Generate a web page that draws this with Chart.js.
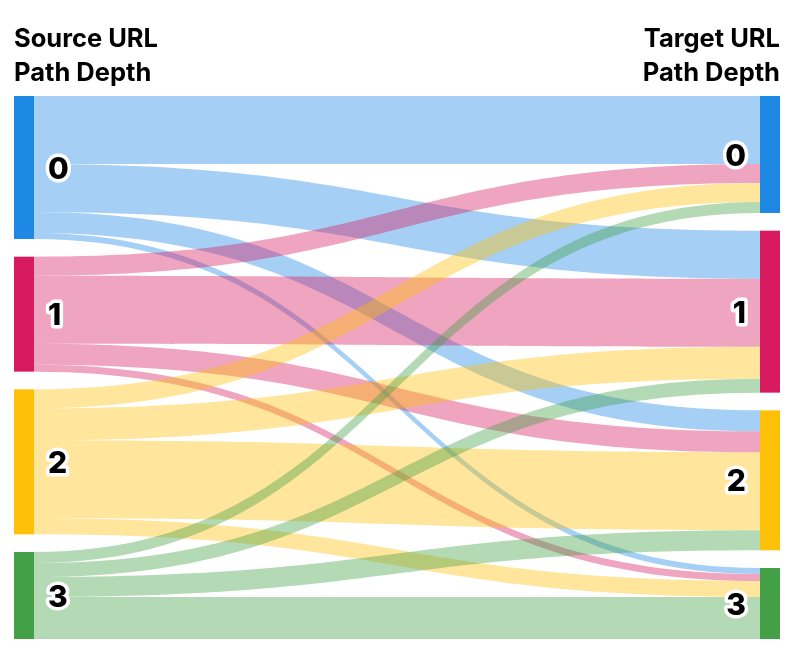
<!DOCTYPE html>
<html>
<head>
<meta charset="utf-8">
<script src="https://cdn.jsdelivr.net/npm/chart.js"></script>
<style>
  html, body { margin: 0; padding: 0; background: #fff; }
  #wrap { width: 794px; height: 661px; position: relative; }
</style>
</head>
<body>
<div id="wrap"><canvas id="sankey"></canvas></div>
<script>
// path depth categories (same on both sides)
const sourceDepths = ['0', '1', '2', '3'];
const targetDepths = ['0', '1', '2', '3'];

// link values: one array per source depth, ordered by target depth 0..3
const fromDepth0 = [68, 48, 21, 6];
const fromDepth1 = [19, 68, 21, 7];
const fromDepth2 = [19, 32, 78, 16];
const fromDepth3 = [11, 14, 20, 42];
const links = [fromDepth0, fromDepth1, fromDepth2, fromDepth3];

const sourceTitle = ['Source URL', 'Path Depth'];
const targetTitle = ['Target URL', 'Path Depth'];

// styling
const nodeColors = ['#1E88E5', '#D81B60', '#FFC107', '#43A047'];
const linkAlpha = 0.4;
const nodeGap = 17.7;   // gap between nodes, in value units
const nodeWidth = 20;   // px

function withAlpha(hex, a) {
    const n = parseInt(hex.slice(1), 16);
    return `rgba(${(n >> 16) & 255}, ${(n >> 8) & 255}, ${n & 255}, ${a})`;
}

const sourceTotals = links.map(row => row.reduce((a, b) => a + b, 0));
const targetTotals = targetDepths.map((_, j) => links.reduce((a, row) => a + row[j], 0));
const grandTotal = sourceTotals.reduce((a, b) => a + b, 0);
const yMax = grandTotal + nodeGap * (sourceDepths.length - 1);

function stackTops(totals) {
    let acc = 0;
    return totals.map(t => { const top = acc; acc += t + nodeGap; return top; });
}

const sankeyPlugin = {
    id: 'sankey',
    beforeDatasetsDraw(chart) {
        const ctx = chart.ctx;
        const xs = chart.scales.x;
        const ys = chart.scales.y;
        const xLeft = xs.getPixelForValue(0);
        const xRight = xs.getPixelForValue(1);
        const x0 = xLeft + nodeWidth;
        const x1 = xRight - nodeWidth;
        const xm = (x0 + x1) / 2;

        const srcTops = stackTops(sourceTotals);
        const tgtTops = stackTops(targetTotals);
        const srcOff = srcTops.slice();
        const tgtOff = tgtTops.slice();

        // links
        ctx.save();
        for (let i = 0; i < links.length; i++) {
            for (let j = 0; j < links[i].length; j++) {
                const v = links[i][j];
                const sy0 = ys.getPixelForValue(srcOff[i]);
                const sy1 = ys.getPixelForValue(srcOff[i] + v);
                const ty0 = ys.getPixelForValue(tgtOff[j]);
                const ty1 = ys.getPixelForValue(tgtOff[j] + v);
                srcOff[i] += v;
                tgtOff[j] += v;

                ctx.beginPath();
                ctx.moveTo(x0, sy0);
                ctx.bezierCurveTo(xm, sy0, xm, ty0, x1, ty0);
                ctx.lineTo(x1, ty1);
                ctx.bezierCurveTo(xm, ty1, xm, sy1, x0, sy1);
                ctx.closePath();
                ctx.fillStyle = withAlpha(nodeColors[i], linkAlpha);
                ctx.fill();
            }
        }

        // nodes
        sourceDepths.forEach((d, i) => {
            const top = ys.getPixelForValue(srcTops[i]);
            const bot = ys.getPixelForValue(srcTops[i] + sourceTotals[i]);
            ctx.fillStyle = nodeColors[i];
            ctx.fillRect(xLeft, top, nodeWidth, bot - top);
        });
        targetDepths.forEach((d, j) => {
            const top = ys.getPixelForValue(tgtTops[j]);
            const bot = ys.getPixelForValue(tgtTops[j] + targetTotals[j]);
            ctx.fillStyle = nodeColors[j];
            ctx.fillRect(xRight - nodeWidth, top, nodeWidth, bot - top);
        });

        // node labels with white halo
        ctx.font = '800 30px Inter';
        ctx.textBaseline = 'middle';
        ctx.lineJoin = 'round';
        ctx.lineWidth = 7;
        const drawLabel = (text, x, y, align) => {
            ctx.textAlign = align;
            ctx.strokeStyle = '#fff';
            ctx.strokeText(text, x, y);
            ctx.fillStyle = '#000';
            ctx.fillText(text, x, y);
        };
        sourceDepths.forEach((d, i) => {
            const mid = ys.getPixelForValue(srcTops[i] + sourceTotals[i] / 2);
            drawLabel(d, xLeft + 34, mid + 2, 'left');
        });
        targetDepths.forEach((d, j) => {
            const mid = ys.getPixelForValue(tgtTops[j] + targetTotals[j] / 2);
            drawLabel(d, xRight - 34, mid + 2, 'right');
        });

        // column titles
        ctx.font = '700 25.5px Inter';
        ctx.textBaseline = 'alphabetic';
        ctx.fillStyle = '#000';
        ctx.textAlign = 'left';
        sourceTitle.forEach((t, k) => ctx.fillText(t, xLeft, 47 + k * 34));
        ctx.textAlign = 'right';
        targetTitle.forEach((t, k) => ctx.fillText(t, xRight, 47 + k * 34));
        ctx.restore();
    }
};

new Chart(document.getElementById('sankey'), {
    type: 'scatter',
    data: { datasets: [{ data: [] }] },
    options: {
        responsive: true,
        maintainAspectRatio: false,
        animation: false,
        layout: { padding: { left: 14, right: 14, top: 96, bottom: 22 } },
        plugins: { legend: { display: false }, tooltip: { enabled: false } },
        scales: {
            x: { type: 'linear', min: 0, max: 1, display: false },
            y: { type: 'linear', min: 0, max: yMax, reverse: true, display: false }
        }
    },
    plugins: [sankeyPlugin]
});
</script>
</body>
</html>
